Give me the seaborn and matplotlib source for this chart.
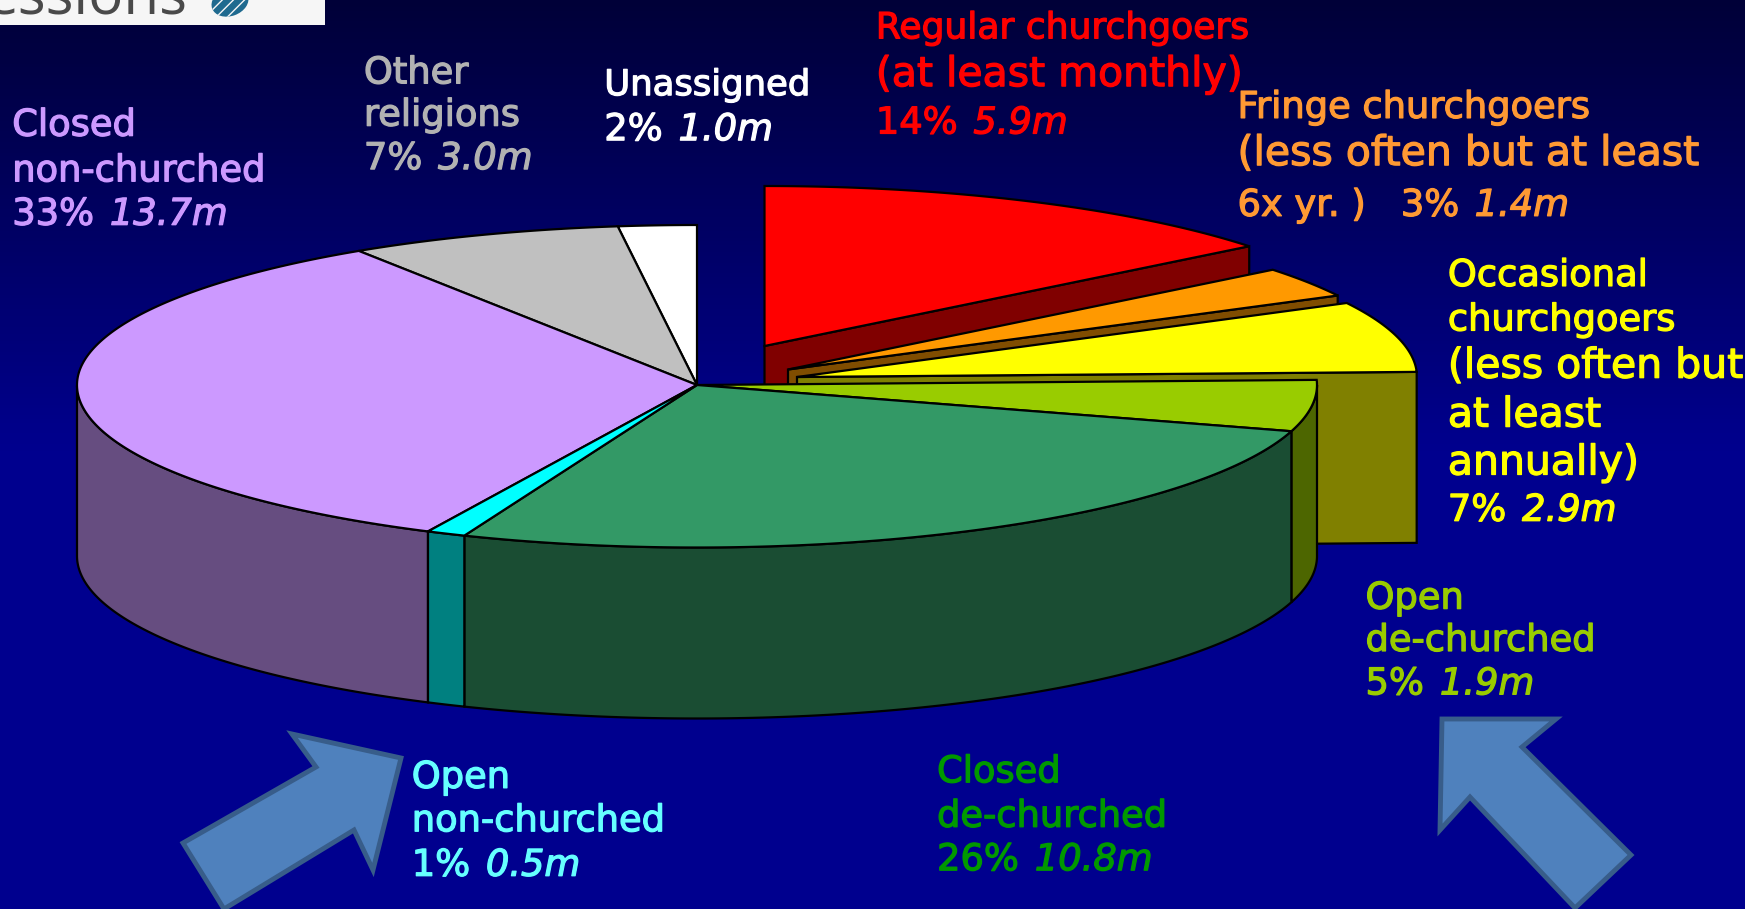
"""Exploded pseudo-3D pie of church attendance segments on a navy slide."""

import matplotlib
matplotlib.use("Agg")

import matplotlib.patheffects as pe
import matplotlib.pyplot as plt
import numpy as np
import seaborn as sns
from matplotlib.colors import to_rgb
from matplotlib.patches import Ellipse, Rectangle

# shares, counter-clockwise from 12 o'clock
segments = ["Unassigned", "Other religions", "Closed non-churched", "Open non-churched",
            "Closed de-churched", "Open de-churched", "Occasional", "Fringe", "Regular"]
shares = [2, 7, 33, 1, 26, 5, 7, 3, 14]
millions = ["1.0m", "3.0m", "13.7m", "0.5m", "10.8m", "1.9m", "2.9m", "1.4m", "5.9m"]
wedge_colors = sns.color_palette(["#FFFFFF", "#C0C0C0", "#CC99FF", "#00FFFF", "#339966",
                                  "#99CC00", "#FFFF00", "#FF9900", "#FF0000"])

W, H = 1745, 909
CX, CY = 697, 385
RX, RY_BACK, RY_FRONT = 620, 160, 162.5
DEPTH = 171
FONT = ["DejaVu Sans"]
NORMAL, LARGE = 26.5, 29.5
OUTLINE = 1.6

# where each wedge's tip sits; the churchgoer slices are pulled out of the pie
centers = {"Occasional": (797, 377), "Fringe": (788, 369.5), "Regular": (764.5, 346)}


def edge(t):
    sin_t = np.sin(t)
    return RX * np.cos(t), -np.where(sin_t > 0, RY_BACK, RY_FRONT) * sin_t


def draw_rim(ax, cx, cy, t, color):
    dark = tuple(c * 0.5 for c in to_rgb(color))
    x, y = edge(t)
    front = np.sin(t) <= 0
    if front.sum() > 1:
        fx, fy = cx + x[front], cy + y[front]
        ax.fill(np.r_[fx, fx[::-1]], np.r_[fy, fy[::-1] + DEPTH], fc=dark, ec="black", lw=OUTLINE)


def draw_top(ax, cx, cy, t, color):
    x, y = edge(t)
    ax.fill(np.r_[cx, cx + x], np.r_[cy, cy + y], fc=color, ec="black", lw=OUTLINE, joinstyle="miter")


def draw_pulled_wedge(ax, cx, cy, start, stop, color):
    dark = tuple(c * 0.5 for c in to_rgb(color))
    # cut face on the clockwise side of the slice
    x0, y0 = edge(np.array([start]))
    x0, y0 = x0[0], y0[0]
    ax.fill([cx, cx + x0, cx + x0, cx], [cy, cy + y0, cy + y0 + DEPTH, cy + DEPTH],
            fc=dark, ec="black", lw=OUTLINE, joinstyle="miter")
    draw_top(ax, cx, cy, np.linspace(start, stop, 120), color)


def label(ax, x, lines, color):
    """lines are (y, text, size) or (y, lead text, italic value, size)"""
    renderer = ax.figure.canvas.get_renderer()
    stroke = [pe.withStroke(linewidth=0.9, foreground=color)]
    for line in lines:
        y, size = (line[0] + 1.5) * W / 1568, line[-1]
        txt = ax.text(x * W / 1568, y, line[1], color=color, fontsize=size, family=FONT,
                      va="center", ha="left", path_effects=stroke)
        if len(line) == 4:
            box = txt.get_window_extent(renderer)
            ax.text(box.x1 + 16, y, line[2], color=color, fontsize=size, family=FONT,
                    style="italic", va="center", ha="left", path_effects=stroke)


def value_line(i):
    return f"{shares[i]}%", millions[i]


fig = plt.figure(figsize=(W / 100, H / 100), dpi=100)
ax = fig.add_axes([0, 0, 1, 1])
sns.despine(ax=ax, left=True, bottom=True)

# slide background
depth_shade = np.clip(np.linspace(0, 1, 256) / 0.5, 0, 1)[:, None, None]
background = np.array([0, 0, 0.22]) * (1 - depth_shade) + np.array([0, 0, 0.56]) * depth_shade
ax.imshow(background, extent=[0, W, H, 0], aspect="auto", zorder=0)

# angles come from the shares; pulled slices are painted first, farthest back first
angles = np.pi / 2 + np.r_[0, np.cumsum(shares)] * 2 * np.pi / sum(shares)
for i in [8, 7, 6]:
    cx, cy = centers[segments[i]]
    draw_pulled_wedge(ax, cx, cy, angles[i], angles[i + 1], wedge_colors[i])
for i in [0, 1, 2, 5, 4, 3]:
    t = np.linspace(angles[i], angles[i + 1], 160)
    draw_rim(ax, CX, CY, t, wedge_colors[i])
    draw_top(ax, CX, CY, t, wedge_colors[i])

# the two block arrows
arrow_left = [(401, 758), (292, 734), (316, 767), (183, 843), (224, 909), (354, 830), (373, 870)]
arrow_right = [(1442, 719), (1556, 719), (1522, 747), (1631, 855), (1575, 908), (1470, 797), (1440, 830)]
for pts in (arrow_left, arrow_right):
    ax.fill(*zip(*pts), fc="#4F81BD", ec="#385D8A", lw=3.5, joinstyle="miter")

# labels, y given in the slide's own layout
lilac, grey, cyan, green, lime, yellow, orange, red = ("#CC99FF", "#B2B2B2", "#66FFFF", "#009900",
                                                       "#99CC00", "#FFFF00", "#FF9933", "#FF0000")
label(ax, 11, [(111, "Closed", NORMAL), (152, "non-churched", NORMAL),
               (191, *value_line(2), NORMAL)], lilac)
label(ax, 327, [(64, "Other", NORMAL), (102, "religions", NORMAL),
                (141, *value_line(1), NORMAL)], grey)
label(ax, 543, [(75, "Unassigned", 25.5), (115, *value_line(0), NORMAL)], "white")
label(ax, 787, [(24, "Regular churchgoers", 26), (66, "(at least monthly)", LARGE),
                (109, *value_line(8), NORMAL)], red)
label(ax, 1112, [(95, "Fringe churchgoers", NORMAL), (137, "(less often but at least", LARGE),
                 (183, "6x yr. )   3%", millions[7], NORMAL)], orange)
label(ax, 1301, [(246, "Occasional", NORMAL), (286, "churchgoers", NORMAL),
                 (328, "(less often but", LARGE), (372, "at least", LARGE),
                 (415, "annually)", LARGE), (457, *value_line(6), NORMAL)], yellow)
label(ax, 1227, [(536, "Open", NORMAL), (574, "de-churched", NORMAL),
                 (613, *value_line(5), NORMAL)], lime)
label(ax, 842, [(692, "Closed", NORMAL), (732, "de-churched", NORMAL),
                (771, *value_line(4), NORMAL)], green)
label(ax, 370, [(697, "Open", NORMAL), (736, "non-churched", NORMAL),
                (776, *value_line(3), NORMAL)], cyan)

# cropped corner of the slide logo
box = Rectangle((0, 0), 325, 24.5, fc="#F6F6F6", ec="none", zorder=5)
ax.add_patch(box)
word = ax.text(-14, 13, "essions", color="#4A4A4A", fontsize=42, family=["Open Sans"], va="baseline",
               ha="left", zorder=6)
word.set_clip_path(box)
globe = Ellipse((230, 2), 38, 28, angle=-20, fc="#1F6A8F", ec="#F6F6F6", lw=0, hatch="///", zorder=6)
ax.add_patch(globe)
globe.set_clip_path(box)

ax.set_xlim(0, W)
ax.set_ylim(H, 0)
ax.axis("off")
fig.savefig("out.png", dpi=100)
